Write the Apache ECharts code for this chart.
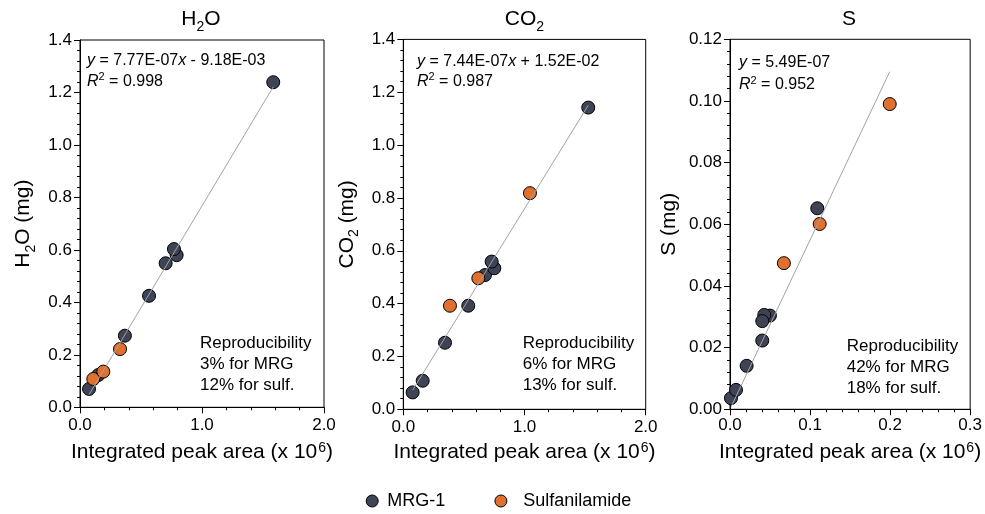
<!DOCTYPE html>
<html>
<head>
<meta charset="utf-8">
<script src="https://cdn.jsdelivr.net/npm/echarts@6/dist/echarts.min.js"></script>
<style>html,body{margin:0;padding:0;background:#fff}#c{width:985px;height:514px}</style>
</head>
<body>
<div id="c"></div>
<script>
// ---- data (x in 10^6 peak-area units, y in mg) ----
const h2oMRG = [[0.074,0.070],[0.150,0.123],[0.368,0.273],[0.566,0.425],[0.702,0.549],[0.792,0.580],[0.770,0.603],[1.584,1.239]];
const h2oSulf = [[0.109,0.108],[0.191,0.136],[0.328,0.222]];
const h2oFit = [[0.074,0.0483],[1.584,1.2216]];

const co2MRG = [[0.077,0.064],[0.160,0.108],[0.344,0.252],[0.536,0.392],[0.674,0.508],[0.751,0.534],[0.729,0.559],[1.526,1.142]];
const co2Sulf = [[0.385,0.392],[0.619,0.496],[1.045,0.818]];
const co2Fit = [[0.077,0.0725],[1.526,1.1505]];

const sMRG = [[0.0012,0.0036],[0.0075,0.0063],[0.0208,0.0141],[0.0403,0.0223],[0.0499,0.0304],[0.0428,0.0306],[0.0403,0.0286],[0.109,0.0652]];
const sSulf = [[0.0673,0.0474],[0.112,0.0601],[0.1995,0.0990]];
const sFit = [[0.0012,0.0007],[0.1995,0.1095]];

const panelTitles = ['H2O', 'CO2', 'S'];
const eqLines = ['{i|y} = 7.77E-07{i|x} - 9.18E-03', '{i|y} = 7.44E-07{i|x} + 1.52E-02', '{i|y} = 5.49E-07'];
const r2Values = ['0.998', '0.987', '0.952'];
const reproTexts = [
  ['Reproducibility', '3% for MRG', '12% for sulf.'],
  ['Reproducibility', '6% for MRG', '13% for sulf.'],
  ['Reproducibility', '42% for MRG', '18% for sulf.']
];
const xMax = [2.0, 2.0, 0.3];
const xInterval = [1.0, 1.0, 0.1];
const yMax = [1.4, 1.4, 0.12];
const yInterval = [0.2, 0.2, 0.02];
const yDigits = [1, 1, 2];
const seriesNames = ['MRG-1', 'Sulfanilamide'];

// ---- style ----
const FF = '"Liberation Sans", Arial, Helvetica, sans-serif';
const DARK = '#3e4456';
const ORANGE = '#e0702f';
const FITC = '#a3a3a3';

const grids = [
  {left: 80, right: 661, top: 40, bottom: 106.7},
  {left: 403.3, right: 339.3, top: 39.4, bottom: 104.7},
  {left: 730, right: 14.3, top: 39.3, bottom: 104.7}
].map(g => Object.assign(g, {show: true, borderColor: '#000', borderWidth: 1, backgroundColor: 'transparent'}));

function rs(size, extra) { return Object.assign({fontSize: size, fontFamily: FF, color: '#000', fill: '#000'}, extra || {}); }

const yNames = ['{a|H}{s|2}{a|O (mg)}', '{a|CO}{s|2}{a| (mg)}', '{a|S (mg)}'];
const yNameGap = [46, 46, 50];
const xNameGap = [34, 32, 32];
const xLabelMargin = [10, 10, 8];

const xAxes = [0,1,2].map(i => ({
  type: 'value', gridIndex: i, min: 0, max: xMax[i], interval: xInterval[i],
  axisLine: {show: true, onZero: false, lineStyle: {color: '#000', width: 1}},
  axisTick: {show: true, inside: false, length: 6, lineStyle: {color: '#000', width: 1}},
  minorTick: {show: true, splitNumber: 5, length: 3, lineStyle: {color: '#000', width: 1}},
  splitLine: {show: false},
  axisLabel: {color: '#000', fontSize: 17, fontFamily: FF, margin: xLabelMargin[i], showMinLabel: true, showMaxLabel: true,
    formatter: v => v.toFixed(1)},
  name: '{a|Integrated peak area (x 10}{p|6}{a|)}',
  nameLocation: 'middle', nameGap: xNameGap[i],
  nameTextStyle: {fontSize: 21, fontFamily: FF, color: '#000',
    rich: {a: rs(21), p: rs(14, {verticalAlign: 'top', lineHeight: 10, padding: [0, 0, 0, 1]})}}
}));

const yAxes = [0,1,2].map(i => ({
  type: 'value', gridIndex: i, min: 0, max: yMax[i], interval: yInterval[i],
  axisLine: {show: true, onZero: false, lineStyle: {color: '#000', width: 1}},
  axisTick: {show: true, inside: false, length: 6, lineStyle: {color: '#000', width: 1}},
  minorTick: {show: true, splitNumber: 5, length: 3, lineStyle: {color: '#000', width: 1}},
  splitLine: {show: false},
  axisLabel: {color: '#000', fontSize: 17, fontFamily: FF, margin: 8, formatter: v => v.toFixed(yDigits[i])},
  name: yNames[i], nameLocation: 'middle', nameGap: yNameGap[i],
  nameTextStyle: {fontSize: 21, fontFamily: FF, color: '#000',
    rich: {a: rs(21), s: rs(14, {verticalAlign: 'top', lineHeight: 10, padding: [11, 0, 0, 0]})}}
}));

const mrgData = [h2oMRG, co2MRG, sMRG];
const sulfData = [h2oSulf, co2Sulf, sSulf];
const fitData = [h2oFit, co2Fit, sFit];

const series = [];
[0,1,2].forEach(i => {
  series.push({type: 'scatter', name: seriesNames[0], xAxisIndex: i, yAxisIndex: i, data: mrgData[i],
    symbol: 'circle', symbolSize: 13, itemStyle: {color: DARK, borderColor: '#000', borderWidth: 1, opacity: 1}, z: 2});
  series.push({type: 'scatter', name: seriesNames[1], xAxisIndex: i, yAxisIndex: i, data: sulfData[i],
    symbol: 'circle', symbolSize: 13, itemStyle: {color: ORANGE, borderColor: '#000', borderWidth: 1, opacity: 1}, z: 3});
  series.push({type: 'line', name: 'fit' + i, xAxisIndex: i, yAxisIndex: i, data: fitData[i],
    symbol: 'none', lineStyle: {color: FITC, width: 1}, z: 4, silent: true});
});

// ---- text annotations ----
const titleX = [201, 524.5, 849];
const eqPos = [[87, 51, 71.5], [417, 51.5, 71.5], [739, 53, 75]];
const reproPos = [[200, 333], [522.7, 333], [846.7, 335.5]];
const graphics = [];
[0,1,2].forEach(i => {
  let t = panelTitles[i];
  let txt = t === 'H2O' ? '{a|H}{s|2}{a|O}' : t === 'CO2' ? '{a|CO}{s|2}' : '{a|S}';
  graphics.push({type: 'text', x: titleX[i], y: 9, style: {text: txt, align: 'center', verticalAlign: 'top',
    fontSize: 21, fontFamily: FF, fill: '#000',
    rich: {a: rs(21, {lineHeight: 21}), s: rs(14, {verticalAlign: 'top', lineHeight: 10, padding: [11, 0, 0, 0]})}}});
  graphics.push({type: 'text', x: eqPos[i][0], y: eqPos[i][1], style: {text: eqLines[i], fontSize: 16, fontFamily: FF, fill: '#000',
    lineHeight: 20, rich: {i: rs(16, {fontStyle: 'italic', lineHeight: 20})}}});
  graphics.push({type: 'text', x: eqPos[i][0], y: eqPos[i][2], style: {text: '{i|R}{p|2}{n| = ' + r2Values[i] + '}', fontSize: 16, fontFamily: FF, fill: '#000',
    rich: {i: rs(16, {fontStyle: 'italic', lineHeight: 20}), n: rs(16, {lineHeight: 20}), p: rs(11, {verticalAlign: 'top', lineHeight: 10, padding: [0, 0, 0, 0]})}}});
  graphics.push({type: 'text', x: reproPos[i][0], y: reproPos[i][1], style: {text: reproTexts[i].join('\n'), fontSize: 17, fontFamily: FF, fill: '#000', lineHeight: 21}});
});

const chart = echarts.init(document.getElementById('c'), null, {renderer: 'canvas'});
chart.setOption({
  animation: false,
  backgroundColor: '#fff',
  grid: grids,
  xAxis: xAxes,
  yAxis: yAxes,
  legend: [
    {data: [seriesNames[0]], left: 365.7, top: 492, padding: 0, itemWidth: 20, itemHeight: 12, icon: 'circle',
      itemStyle: {borderColor: '#000', borderWidth: 1}, textStyle: {fontSize: 18, fontFamily: FF, color: '#000'}, selectedMode: false},
    {data: [seriesNames[1]], left: 494.4, top: 492, padding: 0, itemWidth: 34.6, itemHeight: 12, icon: 'circle',
      itemStyle: {borderColor: '#000', borderWidth: 1}, textStyle: {fontSize: 18, fontFamily: FF, color: '#000'}, selectedMode: false}
  ],
  series: series,
  graphic: graphics
});
</script>
</body>
</html>
